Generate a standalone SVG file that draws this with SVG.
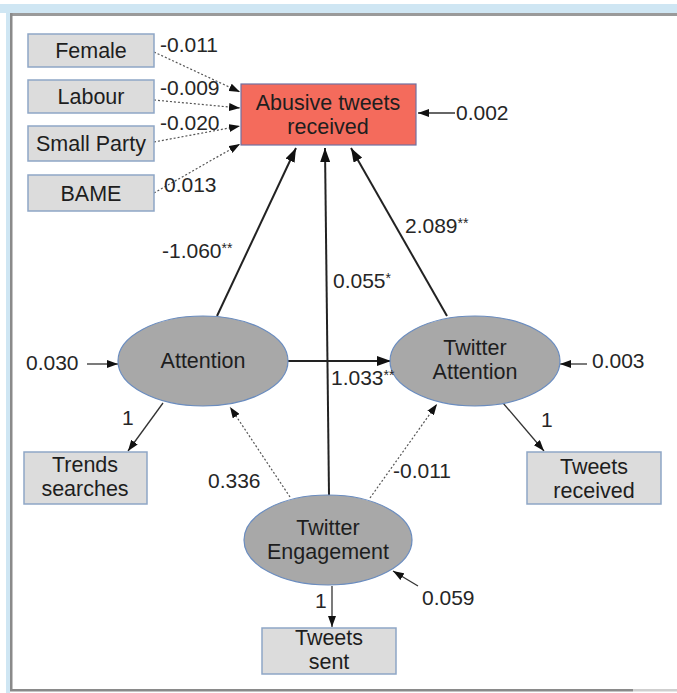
<svg xmlns="http://www.w3.org/2000/svg" width="677" height="693" viewBox="0 0 677 693">
<defs>
<style>
text{font-family:"Liberation Sans",Arial,sans-serif;fill:#1e1e1e;}
.node{font-size:21.5px;text-anchor:middle;}
.lbl{font-size:21px;fill:#262626;}
.box{fill:#dcdcdc;stroke:#8ea6c6;stroke-width:1.5;}
.ell{fill:#a8a8a8;stroke:#6a8cbf;stroke-width:1.2;}
.solid{stroke:#222;stroke-width:2;fill:none;}
.thin{stroke:#333;stroke-width:1.3;fill:none;}
.dot{stroke:#555;stroke-width:1.2;stroke-dasharray:2,2;fill:none;}
.st{font-size:14px;}
</style>
<marker id="big" viewBox="0 0 14 10" refX="14" refY="5" markerWidth="14" markerHeight="10" markerUnits="userSpaceOnUse" orient="auto"><path d="M0,0 L14,5 L0,10 z" fill="#111"/></marker>
<marker id="sm" viewBox="0 0 11 8" refX="11" refY="4" markerWidth="11" markerHeight="8" markerUnits="userSpaceOnUse" orient="auto"><path d="M0,0 L11,4 L0,8 z" fill="#111"/></marker>
</defs>
<rect x="0" y="0" width="677" height="693" fill="#fff"/>
<g id="frame">
<rect x="0" y="4" width="677" height="9" fill="#cfe6f3"/>
<rect x="6" y="4" width="4" height="689" fill="#cfe6f3"/>
<rect x="10" y="13" width="667" height="3" fill="#9a9a9a"/>
<rect x="10" y="13" width="2.5" height="678" fill="#8a8a8a"/>
<rect x="10" y="689" width="623" height="2.5" fill="#8a8a8a"/>
<rect x="633" y="689" width="44" height="2.5" fill="#cfcfcf"/>
</g>
<g id="connectors">
<line class="dot" x1="154" y1="52" x2="240" y2="92" marker-end="url(#sm)"/>
<line class="dot" x1="154" y1="100" x2="240" y2="108" marker-end="url(#sm)"/>
<line class="dot" x1="154" y1="142" x2="240" y2="126" marker-end="url(#sm)"/>
<line class="dot" x1="154" y1="193" x2="240" y2="144" marker-end="url(#sm)"/>
<line class="thin" x1="455" y1="113" x2="418" y2="113" marker-end="url(#sm)"/>
<line class="solid" x1="217" y1="316" x2="296" y2="148" marker-end="url(#big)"/>
<line class="solid" x1="329" y1="495" x2="325" y2="148" marker-end="url(#big)"/>
<line class="solid" x1="447" y1="316" x2="351" y2="148" marker-end="url(#big)"/>
<line class="solid" x1="288" y1="361" x2="391" y2="361" stroke="#555" stroke-width="2.5" marker-end="url(#big)"/>
<line class="thin" x1="87" y1="364" x2="118" y2="364" marker-end="url(#sm)"/>
<line class="thin" x1="587" y1="364" x2="560" y2="364" marker-end="url(#sm)"/>
<line class="thin" x1="163" y1="403" x2="128" y2="451" marker-end="url(#sm)"/>
<line class="thin" x1="503" y1="403" x2="544" y2="451" marker-end="url(#sm)"/>
<line class="dot" x1="290" y1="497" x2="230" y2="407" marker-end="url(#sm)"/>
<line class="dot" x1="370" y1="498" x2="437" y2="404" marker-end="url(#sm)"/>
<line class="thin" x1="332" y1="586" x2="332" y2="627" marker-end="url(#sm)"/>
<line class="thin" x1="418" y1="586" x2="393" y2="571" marker-end="url(#sm)"/>
</g>
<g id="female"><rect class="box" x="28" y="34" width="126" height="33"/><text class="node" x="91" y="58">Female</text></g>
<g id="labour"><rect class="box" x="28" y="80" width="126" height="33"/><text class="node" x="91" y="104">Labour</text></g>
<g id="smallparty"><rect class="box" x="28" y="126" width="126" height="35"/><text class="node" x="91" y="151">Small Party</text></g>
<g id="bame"><rect class="box" x="28" y="175" width="126" height="36"/><text class="node" x="91" y="201">BAME</text></g>
<g id="abusive"><rect x="241" y="84" width="175" height="61" fill="#f46b5c" stroke="#7070a0" stroke-width="1.2"/><text class="node" x="328" y="110">Abusive tweets</text><text class="node" x="328" y="134">received</text></g>
<g id="attention"><ellipse class="ell" cx="203" cy="361" rx="85" ry="45"/><text class="node" x="203" y="368">Attention</text></g>
<g id="twitterattention"><ellipse class="ell" cx="475" cy="361" rx="85" ry="45"/><text class="node" x="475" y="355">Twitter</text><text class="node" x="475" y="379">Attention</text></g>
<g id="twitterengagement"><ellipse class="ell" cx="328" cy="540" rx="84" ry="45"/><text class="node" x="328" y="535">Twitter</text><text class="node" x="328" y="559">Engagement</text></g>
<g id="trends"><rect class="box" x="24" y="452" width="123" height="52"/><text class="node" x="85" y="472">Trends</text><text class="node" x="85" y="496">searches</text></g>
<g id="tweetsreceived"><rect class="box" x="527" y="452" width="134" height="52"/><text class="node" x="594" y="474">Tweets</text><text class="node" x="594" y="498">received</text></g>
<g id="tweetssent"><rect class="box" x="262" y="628" width="134" height="46"/><text class="node" x="329" y="645">Tweets</text><text class="node" x="329" y="669">sent</text></g>
<g id="labels">
<text class="lbl" x="160" y="52">-0.011</text>
<text class="lbl" x="160" y="95">-0.009</text>
<text class="lbl" x="160" y="130">-0.020</text>
<text class="lbl" x="164" y="192">0.013</text>
<text class="lbl" x="456" y="120">0.002</text>
<text class="lbl" x="162" y="258">-1.060<tspan class="st" dy="-5">**</tspan></text>
<text class="lbl" x="333" y="288">0.055<tspan class="st" dy="-5">*</tspan></text>
<text class="lbl" x="405" y="233">2.089<tspan class="st" dy="-5">**</tspan></text>
<text class="lbl" x="331" y="385">1.033<tspan class="st" dy="-5">**</tspan></text>
<text class="lbl" x="26" y="370">0.030</text>
<text class="lbl" x="592" y="368">0.003</text>
<text class="lbl" x="122" y="425">1</text>
<text class="lbl" x="541" y="427">1</text>
<text class="lbl" x="393" y="478">-0.011</text>
<text class="lbl" x="208" y="488">0.336</text>
<text class="lbl" x="315" y="608">1</text>
<text class="lbl" x="422" y="605">0.059</text>
</g>
</svg>
